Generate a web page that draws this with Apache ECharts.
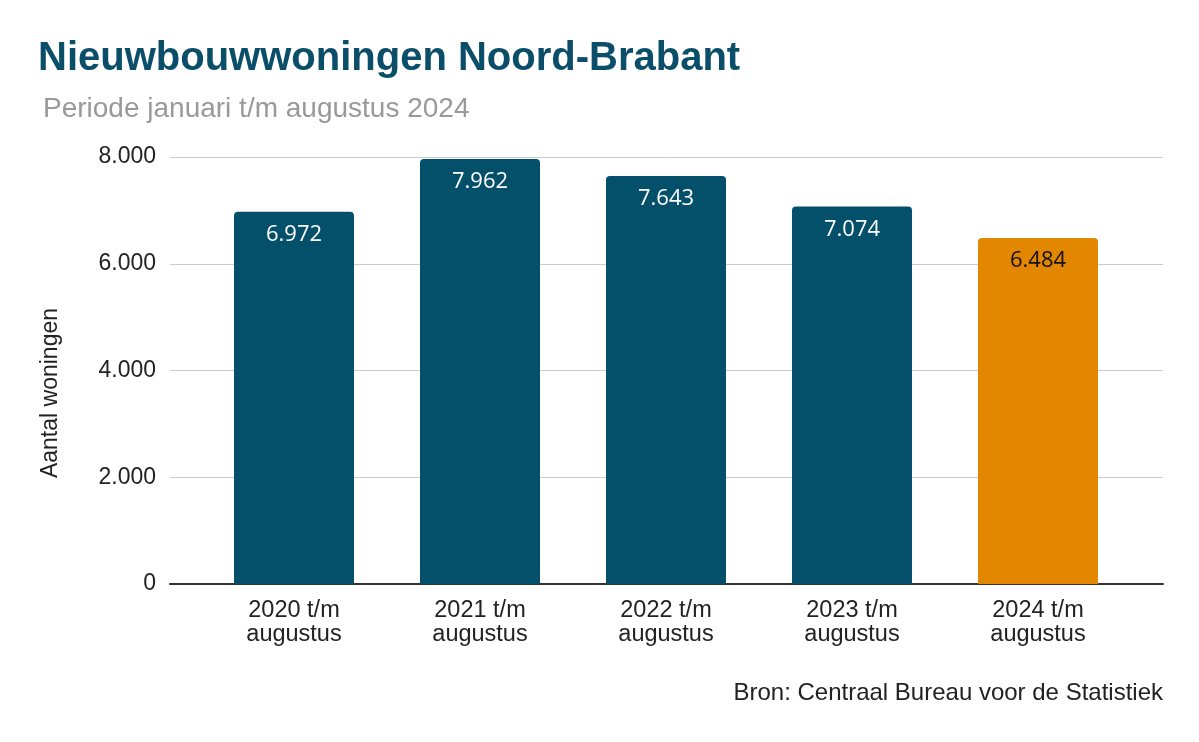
<!DOCTYPE html>
<html>
<head>
<meta charset="utf-8">
<script src="https://cdn.jsdelivr.net/npm/echarts@6/dist/echarts.min.js"></script>
<style>
  html, body { margin: 0; padding: 0; background: #fff; }
  #chart { width: 1199px; height: 742px; }
</style>
</head>
<body>
<div id="chart"></div>
<script>
  var categories = ['2020 t/m\naugustus', '2021 t/m\naugustus', '2022 t/m\naugustus', '2023 t/m\naugustus', '2024 t/m\naugustus']
  var values = [6972, 7962, 7643, 7074, 6484]
  var barColors = ['#044f69', '#044f69', '#044f69', '#044f69', '#e38600']
  var labelColors = ['#ffffff', '#ffffff', '#ffffff', '#ffffff', '#111111']

  var FONT = '"Liberation Sans", Arial, sans-serif'
  var chart = echarts.init(document.getElementById('chart'))

  function fmt (v) {
    return String(v).replace(/\B(?=(\d{3})+(?!\d))/g, '.')
  }

  chart.setOption({
    animation: false,
    textStyle: { fontFamily: FONT },
    title: [
      {
        text: 'Nieuwbouwwoningen Noord-Brabant',
        left: 33,
        top: 34,
        textStyle: { fontSize: 40, fontWeight: 'bold', color: '#0a4e69', fontFamily: FONT }
      },
      {
        text: 'Periode januari t/m augustus 2024',
        left: 38,
        top: 90,
        textStyle: { fontSize: 28, fontWeight: 'normal', color: '#999999', fontFamily: FONT }
      }
    ],
    graphic: [
      {
        type: 'text',
        left: 39,
        top: 308,
        rotation: Math.PI / 2,
        style: {
          text: 'Aantal woningen',
          fontSize: 23,
          fill: '#222',
          fontFamily: FONT
        }
      },
      {
        type: 'text',
        right: 36,
        top: 681,
        style: {
          text: 'Bron: Centraal Bureau voor de Statistiek',
          fontSize: 24,
          fill: '#222',
          fontFamily: FONT
        }
      }
    ],
    grid: [
      { left: 170, right: 36, top: 157, bottom: 158 },
      { left: 201, right: 68, top: 157, bottom: 158 }
    ],
    xAxis: [
      {
        gridIndex: 0,
        type: 'value',
        min: 0,
        max: 1,
        show: true,
        axisLine: { show: true, onZero: false, lineStyle: { color: '#333', width: 2 } },
        axisTick: { show: false },
        axisLabel: { show: false },
        splitLine: { show: false }
      },
      {
        gridIndex: 1,
        type: 'category',
        data: categories,
        axisLine: { show: false },
        axisTick: { show: false },
        axisLabel: {
          fontSize: 23.5,
          color: '#222',
          lineHeight: 24,
          margin: 15,
          fontFamily: FONT
        }
      }
    ],
    yAxis: [
      {
        gridIndex: 0,
        type: 'value',
        min: 0,
        max: 8000,
        interval: 2000,
        axisLine: { show: false },
        axisTick: { show: false },
        axisLabel: {
          fontSize: 23,
          color: '#222',
          margin: 14,
          formatter: fmt,
          fontFamily: FONT
        },
        splitLine: { lineStyle: { color: '#cccccc', width: 1 } }
      },
      {
        gridIndex: 1,
        type: 'value',
        min: 0,
        max: 8000,
        interval: 2000,
        show: false
      }
    ],
    series: [
      {
        type: 'bar',
        xAxisIndex: 1,
        yAxisIndex: 1,
        barWidth: 120,
        data: values.map(function (v, i) {
          return {
            value: v,
            itemStyle: { color: barColors[i], borderRadius: [4, 4, 0, 0] },
            label: { color: labelColors[i] }
          }
        }),
        label: {
          show: true,
          position: 'insideTop',
          distance: 12,
          fontSize: 22,
          fontFamily: '"Open Sans", "Noto Sans", sans-serif',
          formatter: function (p) { return fmt(p.value) }
        }
      }
    ]
  })
</script>
</body>
</html>
